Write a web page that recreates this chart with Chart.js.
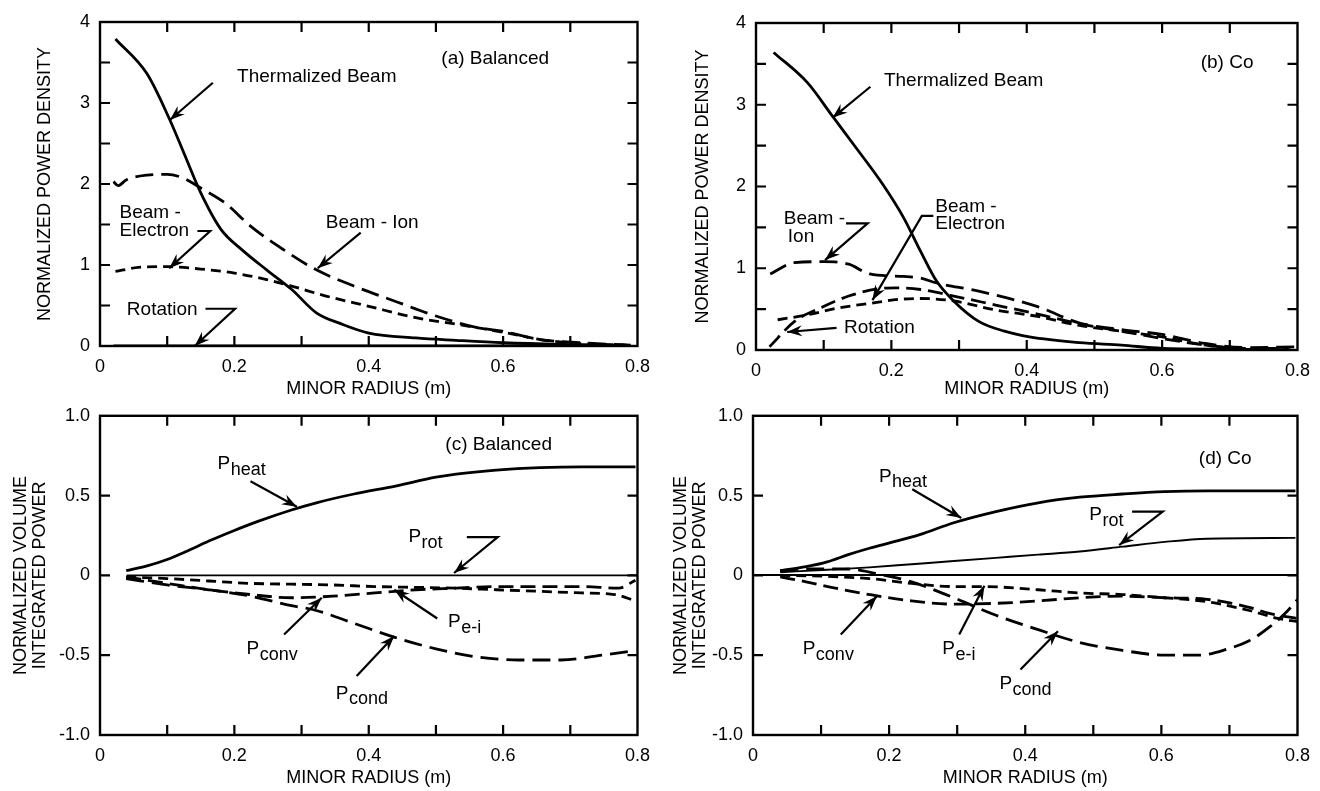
<!DOCTYPE html>
<html>
<head>
<meta charset="utf-8">
<script src="https://cdn.jsdelivr.net/npm/chart.js@4/dist/chart.umd.min.js"></script>
<style>
  html, body { margin: 0; padding: 0; background: #fff; }
  body { width: 1320px; height: 791px; position: relative; overflow: hidden; }
  canvas { position: absolute; }
</style>
</head>
<body>
<canvas id="ca" width="660" height="400" style="left:0;top:0"></canvas>
<canvas id="cb" width="660" height="400" style="left:660px;top:0"></canvas>
<canvas id="cc" width="660" height="396" style="left:0;top:395px"></canvas>
<canvas id="cd" width="660" height="396" style="left:660px;top:395px"></canvas>
<script>
// ---------------- DATA ----------------
// Panel (a) Balanced - normalized power density
const a_tb_x  = [0.023,0.07,0.104,0.125,0.15,0.18,0.211,0.248,0.285,0.322,0.36,0.40,0.47,0.53,0.60,0.686,0.78];
const a_tb_y  = [3.79,3.36,2.79,2.38,1.89,1.44,1.19,0.94,0.70,0.41,0.27,0.16,0.10,0.07,0.04,0.02,0.01];
const a_bi_x  = [0.02,0.027,0.039,0.07,0.10,0.125,0.15,0.187,0.224,0.273,0.322,0.378,0.44,0.50,0.56,0.60,0.655,0.717,0.79];
const a_bi_y  = [2.03,1.98,2.05,2.11,2.12,2.07,1.95,1.76,1.48,1.19,0.94,0.74,0.55,0.37,0.23,0.18,0.08,0.04,0.01];
const a_be_x  = [0.023,0.057,0.10,0.15,0.2,0.248,0.285,0.335,0.40,0.47,0.53,0.60,0.655,0.717,0.784];
const a_be_y  = [0.92,0.97,0.98,0.95,0.90,0.82,0.74,0.62,0.49,0.35,0.27,0.17,0.08,0.03,0.01];
const a_rot_x = [0.02,0.79];
const a_rot_y = [0,0];

// Panel (b) Co - normalized power density
const b_tb_x  = [0.026,0.076,0.113,0.15,0.187,0.218,0.243,0.267,0.292,0.329,0.367,0.404,0.478,0.54,0.60,0.695,0.79];
const b_tb_y  = [3.64,3.27,2.86,2.45,2.03,1.62,1.21,0.84,0.60,0.35,0.23,0.16,0.09,0.06,0.02,0.01,0];
const b_bi_x  = [0.021,0.057,0.10,0.137,0.168,0.218,0.243,0.267,0.329,0.416,0.478,0.54,0.60,0.664,0.726,0.80];
const b_bi_y  = [0.93,1.07,1.08,1.05,0.93,0.90,0.88,0.82,0.72,0.53,0.33,0.25,0.19,0.08,0.03,0.04];
const b_be_x  = [0.032,0.076,0.119,0.168,0.212,0.243,0.292,0.354,0.416,0.478,0.54,0.60,0.664,0.726,0.787];
const b_be_y  = [0.37,0.43,0.51,0.57,0.62,0.63,0.60,0.49,0.41,0.30,0.23,0.16,0.06,0.02,0.02];
const b_rot_x = [0.02,0.057,0.094,0.137,0.181,0.206,0.243,0.292,0.354,0.416,0.478,0.54,0.60,0.664,0.726,0.787];
const b_rot_y = [0.04,0.35,0.51,0.66,0.75,0.76,0.74,0.66,0.55,0.44,0.32,0.23,0.14,0.06,0.01,0];

// Panel (c) Balanced - normalized volume integrated power
const c_heat_x = [0.039,0.07,0.10,0.131,0.162,0.199,0.236,0.285,0.322,0.378,0.44,0.50,0.53,0.59,0.655,0.717,0.797];
const c_heat_y = [0.03,0.06,0.10,0.155,0.215,0.28,0.34,0.41,0.455,0.51,0.56,0.615,0.635,0.66,0.675,0.68,0.68];
const c_rot_x  = [0.04,0.8];
const c_rot_y  = [0,0];
const c_conv_x = [0.039,0.10,0.162,0.224,0.285,0.347,0.409,0.47,0.53,0.59,0.655,0.717,0.772,0.797];
const c_conv_y = [-0.01,-0.05,-0.09,-0.12,-0.14,-0.13,-0.11,-0.09,-0.08,-0.07,-0.07,-0.07,-0.08,-0.03];
const c_ei_x   = [0.039,0.10,0.162,0.224,0.285,0.347,0.409,0.47,0.53,0.59,0.655,0.717,0.766,0.797];
const c_ei_y   = [-0.01,-0.02,-0.035,-0.05,-0.055,-0.06,-0.07,-0.075,-0.08,-0.09,-0.10,-0.11,-0.12,-0.16];
const c_cond_x = [0.039,0.10,0.162,0.224,0.285,0.322,0.378,0.44,0.50,0.56,0.624,0.686,0.747,0.797];
const c_cond_y = [-0.02,-0.06,-0.09,-0.13,-0.19,-0.22,-0.30,-0.39,-0.46,-0.51,-0.53,-0.53,-0.50,-0.47];

// Panel (d) Co - normalized volume integrated power
const d_heat_x = [0.04,0.078,0.109,0.14,0.171,0.202,0.245,0.295,0.357,0.419,0.48,0.543,0.605,0.667,0.797];
const d_heat_y = [0.03,0.055,0.085,0.13,0.17,0.205,0.255,0.33,0.40,0.455,0.49,0.51,0.525,0.53,0.53];
const d_rot_x  = [0.04,0.109,0.171,0.233,0.295,0.357,0.419,0.48,0.543,0.605,0.667,0.797];
const d_rot_y  = [0.02,0.035,0.05,0.07,0.09,0.11,0.13,0.15,0.18,0.21,0.23,0.235];
const d_conv_x = [0.04,0.078,0.121,0.171,0.233,0.295,0.357,0.419,0.48,0.543,0.605,0.667,0.729,0.76,0.786,0.80];
const d_conv_y = [-0.01,-0.04,-0.08,-0.12,-0.16,-0.18,-0.175,-0.16,-0.14,-0.13,-0.14,-0.15,-0.20,-0.24,-0.26,-0.27];
const d_ei_x   = [0.04,0.109,0.171,0.233,0.295,0.338,0.419,0.48,0.543,0.605,0.667,0.729,0.772,0.80];
const d_ei_y   = [0.0,-0.006,-0.02,-0.05,-0.07,-0.07,-0.09,-0.11,-0.12,-0.14,-0.165,-0.22,-0.27,-0.29];
const d_cond_x = [0.04,0.078,0.14,0.183,0.233,0.295,0.357,0.419,0.48,0.543,0.605,0.655,0.698,0.729,0.76,0.786,0.80];
const d_cond_y = [0.03,0.04,0.04,0.01,-0.04,-0.14,-0.25,-0.34,-0.42,-0.47,-0.50,-0.50,-0.46,-0.41,-0.32,-0.22,-0.15];

// Axis tick values / labels
const xTickStep = 0.1;
const xLabelled = ['0','0.2','0.4','0.6','0.8'];
const topYLabels = ['0','1','2','3','4'];
const botYLabels = ['-1.0','-0.5','0','0.5','1.0'];

// ---------------- RENDERING ----------------
const FONT = '"Liberation Sans", Arial, Helvetica, sans-serif';
const pts = (xs, ys) => xs.map((x, i) => ({x, y: ys[i]}));

function ds(xs, ys, style) {
  return Object.assign({
    data: pts(xs, ys), borderColor: '#000', backgroundColor: '#000',
    pointRadius: 0, fill: false, cubicInterpolationMode: 'monotone',
    borderCapStyle: 'butt', borderJoinStyle: 'round'
  }, style);
}
const SOLID = {borderWidth: 2.8};
const THIN = {borderWidth: 1.9};
const LONG = {borderWidth: 2.8, borderDash: [18, 8]};
const LONG2 = {borderWidth: 2.8, borderDash: [15, 7]};
const MED = {borderWidth: 2.8, borderDash: [10, 6]};

const framePlugin = {
  id: 'frame',
  afterDatasetsDraw(chart, args, o) {
    const {ctx, chartArea: a, scales: {x, y}} = chart;
    ctx.save();
    ctx.strokeStyle = '#000';
    ctx.fillStyle = '#000';
    ctx.lineWidth = 2.4;
    ctx.strokeRect(a.left, a.top, a.right - a.left, a.bottom - a.top);
    const L = 10;
    ctx.lineWidth = 2.2;
    ctx.beginPath();
    x.ticks.forEach(t => {
      const px = x.getPixelForValue(t.value);
      if (px <= a.left + 2 || px >= a.right - 2) return;
      ctx.moveTo(px, a.bottom); ctx.lineTo(px, a.bottom - L);
      ctx.moveTo(px, a.top); ctx.lineTo(px, a.top + L);
    });
    y.ticks.forEach(t => {
      const py = y.getPixelForValue(t.value);
      if (py <= a.top + 2 || py >= a.bottom - 2) return;
      ctx.moveTo(a.left, py); ctx.lineTo(a.left + L, py);
      ctx.moveTo(a.right, py); ctx.lineTo(a.right - L, py);
    });
    ctx.stroke();

    // annotation texts
    ctx.textBaseline = 'middle';
    ctx.textAlign = 'left';
    (o.texts || []).forEach(tx => {
      const px = x.getPixelForValue(tx.x), py = y.getPixelForValue(tx.y);
      ctx.font = '19px ' + FONT;
      ctx.fillText(tx.text, px, py);
      if (tx.sub) {
        const w = ctx.measureText(tx.text).width;
        ctx.font = '18px ' + FONT;
        ctx.fillText(tx.sub, px + w + 0.5, py + 6);
      }
    });
    // arrows
    (o.arrows || []).forEach(ar => {
      const p = ar.map(q => [x.getPixelForValue(q[0]), y.getPixelForValue(q[1])]);
      ctx.lineWidth = 2.2;
      ctx.beginPath();
      ctx.moveTo(p[0][0], p[0][1]);
      for (let i = 1; i < p.length; i++) ctx.lineTo(p[i][0], p[i][1]);
      ctx.stroke();
      const [tx, ty] = p[p.length - 1], [sx, sy] = p[p.length - 2];
      const ang = Math.atan2(ty - sy, tx - sx);
      const len = 15, hw = 5.5, notch = 10;
      const c = Math.cos(ang), s = Math.sin(ang);
      ctx.beginPath();
      ctx.moveTo(tx, ty);
      ctx.lineTo(tx - len * c - hw * s, ty - len * s + hw * c);
      ctx.lineTo(tx - notch * c, ty - notch * s);
      ctx.lineTo(tx - len * c + hw * s, ty - len * s - hw * c);
      ctx.closePath();
      ctx.fill();
    });
    ctx.restore();
  }
};

function makePanel(id, p) {
  const W = p.W, H = p.H;
  new Chart(document.getElementById(id), {
    type: 'line',
    data: {datasets: p.datasets},
    options: {
      responsive: false, animation: false, devicePixelRatio: 1,
      layout: {padding: {top: p.top, right: W - p.right, bottom: 0, left: 0}},
      plugins: {legend: {display: false}, tooltip: {enabled: false},
                frame: {texts: p.texts, arrows: p.arrows}},
      scales: {
        x: {
          type: 'linear', min: 0, max: 0.8,
          border: {display: false},
          grid: {display: false, drawTicks: false},
          ticks: {
            stepSize: xTickStep, autoSkip: false, maxRotation: 0, padding: 10,
            color: '#000', font: {family: FONT, size: 18},
            callback: v => { const k = Math.round(v * 10); return k % 2 === 0 ? xLabelled[k / 2] : ''; }
          },
          title: {display: true, text: 'MINOR RADIUS (m)', color: '#000',
                  font: {family: FONT, size: 18, lineHeight: 1.2}, padding: {top: 0, bottom: p.xtPad}},
          afterFit: s => { s.height = H - p.bottom; }
        },
        y: {
          type: 'linear', min: p.ymin, max: p.ymax,
          border: {display: false},
          grid: p.zeroGrid ? {display: true, drawTicks: false, lineWidth: 2,
                   color: c => (Math.abs(c.tick.value) < 1e-9 ? '#000' : 'rgba(0,0,0,0)')}
                 : {display: false, drawTicks: false},
          ticks: {
            stepSize: 0.5, autoSkip: false, padding: 10, color: '#000',
            font: {family: FONT, size: 18},
            callback: p.ylab
          },
          title: {display: true, text: p.ytitle, color: '#000',
                  font: {family: FONT, size: 18, lineHeight: p.ytLH}, padding: {top: p.ytPad, bottom: 0}},
          afterFit: s => { s.width = p.left; }
        }
      }
    },
    plugins: [framePlugin]
  });
}

const topLab = v => { const k = Math.round(v * 2); return k % 2 === 0 ? topYLabels[k / 2] : ''; };
const botLab = v => { const k = Math.round(v * 2); return botYLabels[k + 2]; };

makePanel('ca', {
  W: 660, H: 400, left: 100, right: 646, top: 22, bottom: 346, ymin: 0, ymax: 4,
  ylab: topLab, ytitle: 'NORMALIZED POWER DENSITY', ytLH: 1.2, ytPad: 34, xtPad: 0,
  datasets: [ds(a_tb_x, a_tb_y, SOLID), ds(a_bi_x, a_bi_y, LONG), ds(a_be_x, a_be_y, MED), ds(a_rot_x, a_rot_y, SOLID)],
  texts: [
    {x: 0.508, y: 3.54, text: '(a) Balanced'},
    {x: 0.204, y: 3.32, text: 'Thermalized Beam'},
    {x: 0.029, y: 1.64, text: 'Beam -'},
    {x: 0.029, y: 1.42, text: 'Electron'},
    {x: 0.336, y: 1.52, text: 'Beam - Ion'},
    {x: 0.040, y: 0.45, text: 'Rotation'}
  ],
  arrows: [
    [[0.168, 3.25], [0.104, 2.79]],
    [[0.145, 1.42], [0.164, 1.42], [0.103, 0.96]],
    [[0.388, 1.40], [0.324, 0.96]],
    [[0.157, 0.46], [0.201, 0.46], [0.141, 0.0]]
  ]
});

makePanel('cb', {
  W: 660, H: 400, left: 96, right: 639, top: 23, bottom: 350, ymin: 0, ymax: 4,
  ylab: topLab, ytitle: 'NORMALIZED POWER DENSITY', ytLH: 1.2, ytPad: 32, xtPad: 0,
  datasets: [ds(b_tb_x, b_tb_y, SOLID), ds(b_bi_x, b_bi_y, LONG), ds(b_be_x, b_be_y, MED), ds(b_rot_x, b_rot_y, LONG2)],
  texts: [
    {x: 0.657, y: 3.51, text: '(b) Co'},
    {x: 0.189, y: 3.29, text: 'Thermalized Beam'},
    {x: 0.041, y: 1.61, text: 'Beam -'},
    {x: 0.047, y: 1.39, text: 'Ion'},
    {x: 0.265, y: 1.75, text: 'Beam -'},
    {x: 0.265, y: 1.54, text: 'Electron'},
    {x: 0.130, y: 0.27, text: 'Rotation'}
  ],
  arrows: [
    [[0.169, 3.22], [0.113, 2.84]],
    [[0.133, 1.55], [0.165, 1.55], [0.102, 1.10]],
    [[0.262, 1.64], [0.245, 1.64], [0.172, 0.61]],
    [[0.119, 0.27], [0.046, 0.22]]
  ]
});

makePanel('cc', {
  W: 660, H: 396, left: 100, right: 646, top: 15, bottom: 340, ymin: -1, ymax: 1,
  ylab: botLab, ytitle: ['NORMALIZED VOLUME', 'INTEGRATED POWER'], ytLH: 1.05, ytPad: 12, xtPad: 2,
  datasets: [ds(c_heat_x, c_heat_y, SOLID), ds(c_rot_x, c_rot_y, THIN), ds(c_conv_x, c_conv_y, LONG2),
             ds(c_ei_x, c_ei_y, MED), ds(c_cond_x, c_cond_y, LONG)],
  texts: [
    {x: 0.514, y: 0.82, text: '(c) Balanced'},
    {x: 0.175, y: 0.70, text: 'P', sub: 'heat'},
    {x: 0.459, y: 0.24, text: 'P', sub: 'rot'},
    {x: 0.518, y: -0.29, text: 'P', sub: 'e-i'},
    {x: 0.218, y: -0.46, text: 'P', sub: 'conv'},
    {x: 0.351, y: -0.74, text: 'P', sub: 'cond'}
  ],
  arrows: [
    [[0.224, 0.59], [0.293, 0.43]],
    [[0.546, 0.24], [0.592, 0.24], [0.527, 0.015]],
    [[0.502, -0.27], [0.438, -0.09]],
    [[0.274, -0.37], [0.330, -0.14]],
    [[0.382, -0.63], [0.438, -0.38]]
  ]
});

makePanel('cd', {
  W: 660, H: 396, left: 93, right: 639, top: 15, bottom: 340, ymin: -1, ymax: 1, zeroGrid: true,
  ylab: botLab, ytitle: ['NORMALIZED VOLUME', 'INTEGRATED POWER'], ytLH: 1.05, ytPad: 12, xtPad: 2,
  datasets: [ds(d_heat_x, d_heat_y, SOLID), ds(d_rot_x, d_rot_y, THIN), ds(d_conv_x, d_conv_y, LONG2),
             ds(d_ei_x, d_ei_y, MED), ds(d_cond_x, d_cond_y, LONG)],
  texts: [
    {x: 0.655, y: 0.73, text: '(d) Co'},
    {x: 0.185, y: 0.62, text: 'P', sub: 'heat'},
    {x: 0.494, y: 0.38, text: 'P', sub: 'rot'},
    {x: 0.073, y: -0.46, text: 'P', sub: 'conv'},
    {x: 0.278, y: -0.46, text: 'P', sub: 'e-i'},
    {x: 0.362, y: -0.68, text: 'P', sub: 'cond'}
  ],
  arrows: [
    [[0.234, 0.54], [0.306, 0.36]],
    [[0.557, 0.40], [0.602, 0.40], [0.538, 0.19]],
    [[0.129, -0.37], [0.182, -0.13]],
    [[0.303, -0.37], [0.340, -0.065]],
    [[0.393, -0.59], [0.448, -0.35]]
  ]
});
</script>
</body>
</html>
